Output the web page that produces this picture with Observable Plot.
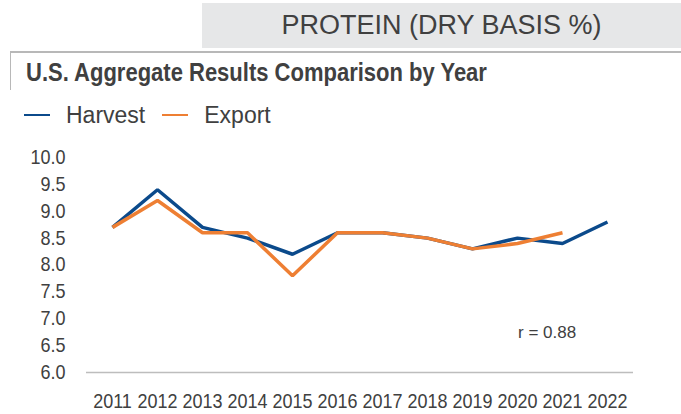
<!DOCTYPE html>
<html>
<head>
<meta charset="utf-8">
<script src="https://cdn.jsdelivr.net/npm/d3@7"></script>
<script src="https://cdn.jsdelivr.net/npm/@observablehq/plot@0.6"></script>
<style>
  html, body { margin: 0; padding: 0; background: #fff; }
  body { width: 681px; height: 414px; position: relative; overflow: hidden; font-family: "Liberation Sans", Arial, sans-serif; color: #404040; }
  #band { position: absolute; left: 202px; top: 3px; width: 479px; height: 45px; background: #e6e7e8; text-align: center; font-size: 27px; line-height: 45px; color: #404040; }
  #hline { position: absolute; left: 10px; top: 51px; width: 671px; height: 0; border-top: 2px solid #b8b8b8; }
  #vline { position: absolute; left: 10px; top: 51px; width: 0; height: 39px; border-left: 1px solid #b8b8b8; }
  #title { position: absolute; left: 26px; top: 58px; font-size: 25px; font-weight: bold; color: #404040; white-space: nowrap; transform: scaleX(0.88); transform-origin: 0 0; }
  #legend { position: absolute; left: 24px; top: 95px; font-size: 23px; color: #404040; white-space: nowrap; }
  #legend span.item { display: inline-flex; align-items: center; margin-right: 17px; }
  #legend span.sw { display: inline-block; width: 26px; height: 0; border-top: 2px solid; margin-right: 16px; }
  #chart { position: absolute; left: 0; top: 140px; }
  #rlabel { position: absolute; left: 518px; top: 323px; font-size: 17px; color: #404040; white-space: nowrap; }
</style>
</head>
<body>
<div id="band">PROTEIN (DRY BASIS %)</div>
<div id="hline"></div>
<div id="vline"></div>
<div id="title">U.S. Aggregate Results Comparison by Year</div>
<div id="legend"></div>
<div id="chart"></div>
<div id="rlabel"></div>
<script>
const years = ["2011","2012","2013","2014","2015","2016","2017","2018","2019","2020","2021","2022"];
const harvest = [8.7, 9.4, 8.7, 8.5, 8.2, 8.6, 8.6, 8.5, 8.3, 8.5, 8.4, 8.8];
const exportVals = [8.7, 9.2, 8.6, 8.6, 7.8, 8.6, 8.6, 8.5, 8.3, 8.4, 8.6];
const yTicks = [6.0, 6.5, 7.0, 7.5, 8.0, 8.5, 9.0, 9.5, 10.0];
const seriesNames = ["Harvest", "Export"];
const seriesColors = ["#0b4a8b", "#ee7f33"];
const rText = "r = 0.88";

const data = [];
years.forEach((y, i) => { if (harvest[i] != null) data.push({year: y, value: harvest[i], series: "Harvest"}); });
years.forEach((y, i) => { if (exportVals[i] != null) data.push({year: y, value: exportVals[i], series: "Export"}); });

const chart = Plot.plot({
  width: 681,
  height: 274,
  marginTop: 17,
  marginBottom: 42,
  marginLeft: 86,
  marginRight: 48,
  style: { fontFamily: "'Liberation Sans', Arial, sans-serif", fontSize: "20px", color: "#404040", background: "transparent" },
  x: { type: "point", domain: years, padding: 0.5 },
  y: { domain: [6, 10] },
  color: { domain: seriesNames, range: seriesColors },
  marks: [
    Plot.axisY({ ticks: yTicks, tickFormat: d3.format(".1f"), tickSize: 0, tickPadding: 21, label: null, fontSize: 20 }),
    Plot.axisX({ tickSize: 0, tickPadding: 21, label: null, fontSize: 21 }),
    Plot.ruleY([6], { stroke: "#bdbdbd", strokeWidth: 1.5 }),
    Plot.line(data, { x: "year", y: "value", z: "series", stroke: "series", strokeWidth: 3.5, strokeLinejoin: "miter", strokeLinecap: "butt" })
  ]
});
// condense tick label glyphs horizontally (narrow-font look)
chart.querySelectorAll('g[aria-label="y-axis tick label"] text').forEach(t => {
  const tr = t.getAttribute("transform") || "";
  t.setAttribute("transform", tr + " scale(0.9,1)");
});
chart.querySelectorAll('g[aria-label="x-axis tick label"] text').forEach(t => {
  const tr = t.getAttribute("transform") || "";
  t.setAttribute("transform", tr + " scale(0.857,1)");
});
document.getElementById("chart").appendChild(chart);

const legend = document.getElementById("legend");
seriesNames.forEach((n, i) => {
  const item = document.createElement("span");
  item.className = "item";
  const sw = document.createElement("span");
  sw.className = "sw";
  sw.style.borderTopColor = seriesColors[i];
  item.appendChild(sw);
  item.appendChild(document.createTextNode(n));
  legend.appendChild(item);
});
document.getElementById("rlabel").textContent = rText;
</script>
</body>
</html>
